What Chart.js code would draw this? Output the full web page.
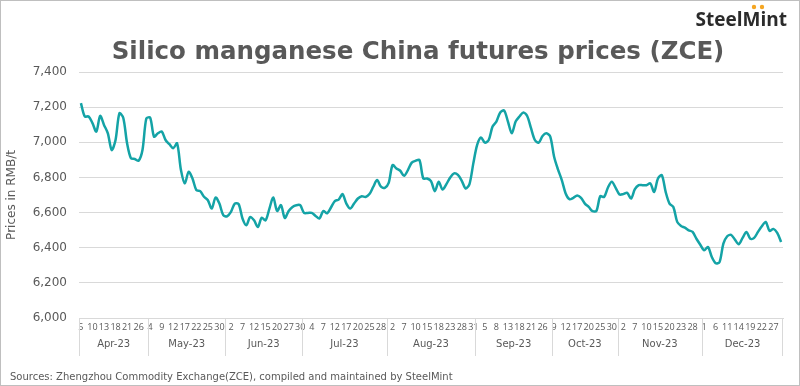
<!DOCTYPE html>
<html>
<head>
<meta charset="utf-8">
<script src="https://cdn.jsdelivr.net/npm/chart.js@4"></script>
<style>
  html, body { margin: 0; padding: 0; background: #fff; }
  #wrap { position: relative; width: 800px; height: 386px; box-sizing: border-box; border: 1px solid #bfbfbf; }
  canvas { display: block; }
</style>
</head>
<body>
<div id="wrap"><canvas id="zceChart" width="798" height="384"></canvas></div>
<script>
const months = ['Apr-23', 'May-23', 'Jun-23', 'Jul-23', 'Aug-23', 'Sep-23', 'Oct-23', 'Nov-23', 'Dec-23']

const days = [
    [5, 6, 7, 10, 11, 12, 13, 14, 17, 18, 19, 20, 21, 24, 25, 26, 27, 28],
    [4, 5, 8, 9, 10, 11, 12, 15, 16, 17, 18, 19, 22, 23, 24, 25, 26, 29, 30, 31],
    [1, 2, 5, 6, 7, 8, 9, 12, 13, 14, 15, 16, 19, 20, 21, 26, 27, 28, 29, 30],
    [1, 3, 4, 5, 6, 7, 10, 11, 12, 13, 14, 17, 18, 19, 20, 21, 24, 25, 26, 27, 28, 31],
    [1, 2, 3, 4, 7, 8, 9, 10, 11, 14, 15, 16, 17, 18, 21, 22, 23, 24, 25, 28, 29, 30, 31],
    [1, 4, 5, 6, 7, 8, 11, 12, 13, 14, 15, 18, 19, 20, 21, 22, 25, 26, 27, 28],
    [9, 10, 11, 12, 13, 16, 17, 18, 19, 20, 23, 24, 25, 26, 27, 30, 31],
    [1, 2, 3, 6, 7, 8, 9, 10, 13, 14, 15, 16, 17, 20, 21, 22, 23, 24, 27, 28, 29, 30],
    [1, 4, 5, 6, 7, 8, 11, 12, 13, 14, 15, 18, 19, 20, 21, 22, 25, 26, 27, 28, 29]
]

const prices = [
    [7223, 7147, 7147, 7109, 7061, 7150, 7099, 7051, 6956, 7013, 7165, 7140, 6994, 6909, 6905, 6895, 6956, 7135],
    [7140, 7032, 7051, 7061, 7013, 6989, 6966, 6994, 6842, 6766, 6832, 6794, 6728, 6722, 6690, 6670, 6623, 6686, 6651, 6585],
    [6579, 6604, 6651, 6648, 6566, 6528, 6575, 6556, 6518, 6571, 6556, 6623, 6686, 6609, 6642, 6569, 6609, 6632, 6642, 6642],
    [6598, 6598, 6598, 6581, 6566, 6609, 6596, 6629, 6665, 6674, 6705, 6651, 6623, 6651, 6680, 6693, 6689, 6705, 6747, 6785, 6747, 6741],
    [6769, 6870, 6851, 6838, 6809, 6842, 6884, 6895, 6899, 6794, 6794, 6779, 6722, 6775, 6731, 6762, 6800, 6823, 6814, 6781, 6737, 6762, 6880],
    [6985, 7027, 6998, 7013, 7090, 7118, 7170, 7181, 7118, 7051, 7118, 7147, 7170, 7150, 7080, 7013, 6998, 7036, 7051, 7032],
    [6918, 6846, 6785, 6709, 6676, 6684, 6697, 6684, 6651, 6632, 6608, 6610, 6693, 6689, 6743, 6775, 6741],
    [6703, 6705, 6712, 6680, 6733, 6756, 6756, 6756, 6766, 6718, 6794, 6813, 6718, 6651, 6632, 6547, 6524, 6514, 6499, 6490, 6451, 6417],
    [6385, 6404, 6347, 6312, 6318, 6423, 6465, 6473, 6446, 6420, 6456, 6490, 6451, 6456, 6490, 6522, 6547, 6496, 6507, 6484, 6433]
]

const yTicks = [6000, 6200, 6400, 6600, 6800, 7000, 7200, 7400]

const grey = '#595959'
const font = "'DejaVu Sans', sans-serif"
const smallFont = "'Open Sans', sans-serif"

// flatten the month groups into one category axis
let labels = []
let values = []
let monthStart = []
days.forEach((list, m) => {
    monthStart.push(labels.length)
    list.forEach((d, i) => {
        labels.push(String(d))
        values.push(prices[m][i])
    })
})

// title, logo, month row, separators and the source line
const decor = {
    id: 'decor',
    afterDraw(chart) {
        const ctx = chart.ctx
        const x = chart.scales.x
        const area = chart.chartArea
        ctx.save()

        ctx.fillStyle = grey
        ctx.font = "bold 24.5px " + font
        ctx.textAlign = 'center'
        ctx.textBaseline = 'middle'
        ctx.fillText('Silico manganese China futures prices (ZCE)', 417, 52)

        // logo
        ctx.font = "bold 19px " + smallFont
        ctx.textAlign = 'right'
        ctx.fillStyle = '#2b2b2b'
        ctx.fillText('SteelMint', 786, 20)
        ctx.fillStyle = '#f5a623'
        ctx.beginPath()
        ctx.arc(753, 6, 2.2, 0, Math.PI * 2)
        ctx.arc(761, 6, 2.2, 0, Math.PI * 2)
        ctx.fill()

        // month groups
        ctx.strokeStyle = '#d9d9d9'
        ctx.lineWidth = 1
        ctx.fillStyle = grey
        ctx.font = "10px " + font
        ctx.textAlign = 'center'
        const half = (x.getPixelForValue(1) - x.getPixelForValue(0)) / 2
        monthStart.forEach((s, m) => {
            const e = m + 1 < monthStart.length ? monthStart[m + 1] - 1 : labels.length - 1
            const left = x.getPixelForValue(s) - half
            const right = x.getPixelForValue(e) + half
            ctx.beginPath()
            ctx.moveTo(Math.round(left) + 0.5, area.bottom)
            ctx.lineTo(Math.round(left) + 0.5, area.bottom + 38)
            ctx.stroke()
            ctx.fillText(months[m], (left + right) / 2, area.bottom + 26)
            if (m === monthStart.length - 1) {
                ctx.beginPath()
                ctx.moveTo(Math.round(right) - 0.5, area.bottom)
                ctx.lineTo(Math.round(right) - 0.5, area.bottom + 38)
                ctx.stroke()
            }
        })

        ctx.textAlign = 'left'
        ctx.font = "10px " + font
        ctx.fillText('Sources: Zhengzhou Commodity Exchange(ZCE), compiled and maintained by SteelMint', 9, 376)
        ctx.restore()
    }
}

const ctxChart = document.getElementById('zceChart')

new Chart(ctxChart, {
    type: 'line',
    data: {
        labels: labels,
        datasets: [{
            label: 'Silico manganese',
            data: values,
            borderColor: '#14A3A6',
            borderWidth: 2.5,
            pointRadius: 0,
            tension: 0.3,
            fill: false
        }]
    },
    options: {
        responsive: false,
        animation: false,
        layout: { padding: { top: 71, right: 16, left: 4, bottom: 0 } },
        plugins: {
            legend: { display: false },
            tooltip: { enabled: false }
        },
        scales: {
            x: {
                type: 'category',
                offset: true,
                grid: { display: false, drawTicks: false },
                border: { display: true, color: '#d9d9d9' },
                ticks: {
                    autoSkip: false,
                    maxRotation: 0,
                    minRotation: 0,
                    padding: 4,
                    color: grey,
                    font: { family: smallFont, size: 9 },
                    callback: (val, idx) => idx % 3 === 0 ? labels[idx] : ''
                },
                afterFit: (scale) => { scale.height = 67 }
            },
            y: {
                min: 6000,
                max: 7400,
                afterBuildTicks: (scale) => { scale.ticks = yTicks.map(v => ({ value: v })) },
                grid: { color: '#d9d9d9', drawTicks: false },
                border: { display: false },
                ticks: {
                    padding: 12,
                    color: grey,
                    font: { family: font, size: 12 },
                    callback: (v) => v.toLocaleString('en-US')
                },
                title: {
                    display: true,
                    text: 'Prices in RMB/t',
                    color: grey,
                    font: { family: font, size: 12 },
                    padding: 0
                },
                afterFit: (scale) => { scale.width = 74 }
            }
        }
    },
    plugins: [decor]
})
</script>
</body>
</html>
